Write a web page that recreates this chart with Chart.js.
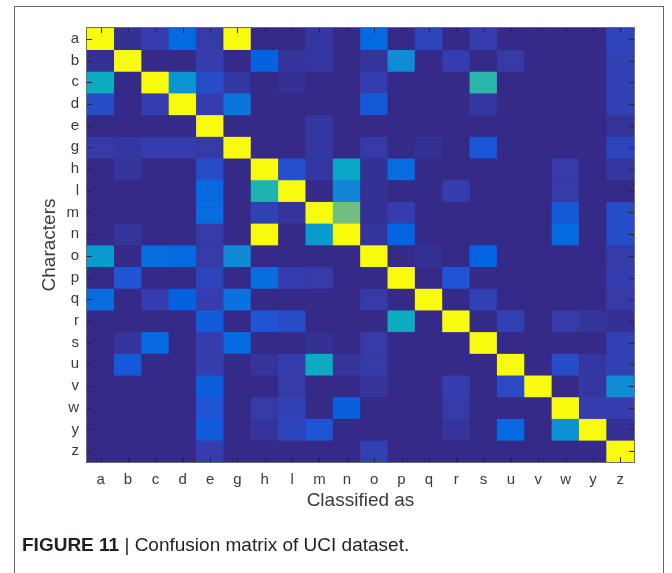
<!DOCTYPE html>
<html>
<head>
<meta charset="utf-8">
<script src="https://cdn.jsdelivr.net/npm/chart.js@4.4.1/dist/chart.umd.min.js"></script>
<style>
    body { margin: 0; background: #fff; width: 672px; height: 573px; overflow: hidden; position: relative; }
    #frame { position: absolute; left: 14px; top: 6px; width: 648px; height: 600px; border: 1px solid #666; border-bottom: none; }
    #chart { position: absolute; left: 0; top: 0; }
    #caption { position: absolute; left: 22px; top: 534px; font: 19px "Liberation Sans", Arial, sans-serif; color: #231f20; white-space: nowrap; }
</style>
</head>
<body>
<div id="frame"></div>
<canvas id="chart" width="672" height="573"></canvas>
<div id="caption"><b>FIGURE 11</b> | Confusion matrix of UCI dataset.</div>
<script>
// rows = true character, columns = classified as
const characters = ['a', 'b', 'c', 'd', 'e', 'g', 'h', 'l', 'm', 'n', 'o', 'p', 'q', 'r', 's', 'u', 'v', 'w', 'y', 'z'];
const classifiedAs = ['a', 'b', 'c', 'd', 'e', 'g', 'h', 'l', 'm', 'n', 'o', 'p', 'q', 'r', 's', 'u', 'v', 'w', 'y', 'z'];

// normalised rates
const matrix = [
    [1, .02, .06, .2, .05, 1, 0, 0, .04, 0, .2, 0, .08, 0, .06, 0, 0, 0, 0, .08],
    [.02, 1, 0, 0, .06, 0, .17, .03, .04, 0, .03, .33, 0, .06, 0, .05, 0, 0, 0, .07],
    [.45, 0, 1, .36, .1, .04, 0, .02, 0, 0, .06, 0, 0, 0, .52, 0, 0, 0, 0, .07],
    [.1, 0, .06, 1, .06, .25, 0, 0, 0, 0, .14, 0, 0, 0, .04, 0, 0, 0, 0, .07],
    [0, 0, 0, 0, 1, 0, 0, 0, .04, 0, 0, 0, 0, 0, 0, 0, 0, 0, 0, .03],
    [.05, .04, .06, .06, .05, 1, 0, 0, .04, 0, .05, 0, .02, 0, .13, 0, 0, 0, 0, .08],
    [0, .03, 0, 0, .1, 0, 1, .11, .04, .43, .02, .22, 0, 0, 0, 0, 0, .05, 0, .04],
    [0, 0, 0, 0, .2, 0, .5, 1, 0, .3, .02, 0, 0, .06, 0, 0, 0, .05, 0, 0],
    [0, 0, 0, 0, .22, 0, .07, .03, 1, .62, .02, .06, 0, 0, 0, 0, 0, .14, 0, .1],
    [0, .03, 0, 0, .05, 0, 1, 0, .38, 1, .03, .18, 0, 0, 0, 0, 0, .2, 0, .1],
    [.38, 0, .22, .2, .05, .32, 0, 0, 0, 0, 1, 0, .02, 0, .18, 0, 0, 0, 0, .05],
    [0, .12, 0, 0, .08, 0, .22, .06, .05, 0, 0, 1, 0, .12, 0, 0, 0, 0, 0, .06],
    [.22, 0, .06, .17, .06, .24, 0, 0, 0, 0, .05, 0, 1, 0, .07, 0, 0, 0, 0, .05],
    [0, 0, 0, 0, .15, 0, .12, .1, 0, 0, 0, .45, 0, 1, 0, .07, 0, .05, .03, .02],
    [0, .03, .2, 0, .06, .2, 0, 0, .02, 0, .05, 0, 0, 0, 1, 0, 0, 0, 0, .07],
    [0, .14, 0, 0, .06, 0, .03, .06, .45, .03, .05, 0, 0, 0, 0, 1, 0, .1, .04, .07],
    [0, 0, 0, 0, .16, 0, 0, .05, 0, 0, .03, 0, 0, .06, 0, .09, 1, 0, .04, .33],
    [0, 0, 0, 0, .12, 0, .05, .07, 0, .16, 0, 0, 0, .05, 0, 0, 0, 1, .06, .06],
    [0, 0, 0, 0, .15, 0, .03, .08, .12, 0, 0, 0, 0, .03, 0, .2, 0, .35, 1, .02],
    [0, 0, 0, 0, .06, 0, 0, 0, 0, 0, .07, 0, 0, 0, 0, 0, 0, 0, 0, 1]
];

// parula colormap, sampled
const PARULA = [
    [53, 42, 135], [53, 61, 173], [32, 83, 212], [3, 99, 225], [8, 113, 222],
    [20, 129, 214], [12, 147, 210], [6, 164, 202], [15, 174, 185], [46, 183, 164],
    [89, 189, 140], [135, 191, 119], [174, 190, 103], [209, 187, 89], [241, 185, 74],
    [254, 200, 50], [245, 222, 33], [249, 251, 14]
];

function parula(v) {
    const t = Math.max(0, Math.min(1, v)) * (PARULA.length - 1);
    const i = Math.min(Math.floor(t), PARULA.length - 2);
    const f = t - i;
    const a = PARULA[i], b = PARULA[i + 1];
    const c = a.map((x, k) => Math.round(x + (b[k] - x) * f));
    return `rgb(${c[0]},${c[1]},${c[2]})`;
}

const n = characters.length;

// one dataset per row, each cell a floating bar spanning its row
const datasets = characters.map((ch, i) => ({
    label: ch,
    data: classifiedAs.map(c => ({ x: c, y: [n - 1 - i, n - i] })),
    backgroundColor: matrix[i].map(parula),
    borderWidth: 0,
    grouped: false,
    barPercentage: 1,
    categoryPercentage: 1
}));

const axisFont = { family: '"Liberation Sans", Arial, sans-serif', size: 15 };
const titleFont = { family: '"Liberation Sans", Arial, sans-serif', size: 19 };

const matlabBox = {
    id: 'matlabBox',
    beforeDatasetsDraw(chart) {
        const { ctx, chartArea: a } = chart;
        ctx.save();
        ctx.fillStyle = parula(0);
        ctx.fillRect(a.left, a.top, a.right - a.left, a.bottom - a.top);
        ctx.restore();
    },
    afterDraw(chart) {
        const { ctx, chartArea: a, scales } = chart;
        const len = 5;
        ctx.save();
        ctx.strokeStyle = '#262626';
        ctx.lineWidth = 1;
        ctx.beginPath();
        scales.x.ticks.forEach((t, k) => {
            const px = Math.round(scales.x.getPixelForTick(k)) + 0.5;
            ctx.moveTo(px, a.top); ctx.lineTo(px, a.top + len);
            ctx.moveTo(px, a.bottom); ctx.lineTo(px, a.bottom - len);
        });
        scales.y.ticks.forEach(t => {
            const py = Math.round(scales.y.getPixelForValue(t.value)) + 0.5;
            ctx.moveTo(a.left, py); ctx.lineTo(a.left + len, py);
            ctx.moveTo(a.right, py); ctx.lineTo(a.right - len, py);
        });
        ctx.stroke();
        ctx.strokeStyle = '#6e6e6e';
        ctx.strokeRect(Math.round(a.left) - 0.5, Math.round(a.top) - 0.5,
            Math.round(a.right - a.left) + 1, Math.round(a.bottom - a.top) + 1);
        ctx.restore();
    }
};

new Chart(document.getElementById('chart'), {
    type: 'bar',
    data: { labels: classifiedAs, datasets },
    options: {
        responsive: false,
        animation: false,
        layout: { padding: { left: 0, top: 28, right: 38, bottom: 0 } },
        plugins: { legend: { display: false }, tooltip: { enabled: false } },
        scales: {
            x: {
                type: 'category',
                grid: { display: false },
                border: { display: false },
                ticks: { font: axisFont, color: '#3a3a3a', padding: 0.5, maxRotation: 0, autoSkip: false },
                title: { display: true, text: 'Classified as', font: titleFont, color: '#3a3a3a', padding: { top: 0, bottom: 61 } },
                afterFit(scale) { scale.height = 111; }
            },
            y: {
                type: 'linear',
                min: 0,
                max: n,
                grid: { display: false },
                border: { display: false },
                afterBuildTicks(scale) {
                    scale.ticks = characters.map((c, i) => ({ value: n - 0.5 - i }));
                },
                ticks: {
                    font: axisFont,
                    color: '#3a3a3a',
                    padding: 0,
                    callback: v => characters[n - 1 - Math.floor(v)]
                },
                title: { display: true, text: 'Characters', font: titleFont, color: '#3a3a3a', padding: { top: 38.5, bottom: 0 } },
                afterFit(scale) { scale.width = 87; }
            }
        }
    },
    plugins: [matlabBox]
});
</script>
</body>
</html>
